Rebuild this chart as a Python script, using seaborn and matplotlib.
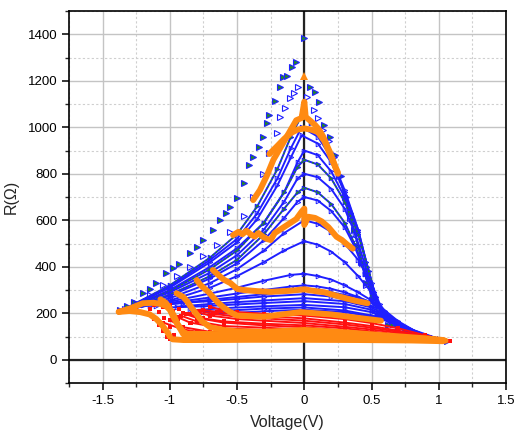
import matplotlib
matplotlib.use("Agg")
import matplotlib.pyplot as plt
from matplotlib.ticker import MultipleLocator, FuncFormatter
import seaborn as sns

# ---------------- data ----------------
# sparse outer loops (markers only)
sparse_v = [
    [-1.37, -1.32, -1.27, -1.2, -1.15, -1.1, -1.03, -0.98, -0.93, -0.85, -0.8, -0.75, -0.68, -0.63,
     -0.58, -0.55, -0.5, -0.45, -0.41, -0.38, -0.34, -0.31, -0.28, -0.26, -0.22, -0.18, -0.16, -0.13,
     -0.09, -0.06, 0.0, 0.04, 0.08, 0.11, 0.15, 0.19, 0.23, 0.27, 0.31, 0.34, 0.37, 0.4, 0.43, 0.46,
     0.5, 0.55, 0.62, 0.7, 0.8, 0.92, 1.06],
    [-1.33, -1.25, -1.15, -1.05, -0.95, -0.85, -0.75, -0.65, -0.55, -0.45, -0.38, -0.31, -0.26, -0.2,
     -0.18, -0.14, -0.11, -0.08, -0.05, 0.02, 0.07, 0.1, 0.14, 0.18, 0.22, 0.26, 0.3, 0.34, 0.38,
     0.42, 0.46, 0.5, 0.55],
]
sparse_r = [
    [214, 232, 250, 286, 305, 329, 372, 393, 414, 458, 486, 515, 558, 601,
     630, 658, 695, 760, 837, 873, 916, 959, 1017, 1052, 1113, 1174, 1215, 1220,
     1260, 1282, 1382, 1174, 1153, 1110, 1009, 959, 880, 790, 701, 630, 560, 490, 415, 329,
     257, 190, 150, 125, 108, 93, 82],
    [220, 245, 280, 320, 360, 400, 445, 495, 550, 620, 700, 800, 888, 974,
     1045, 1081, 1124, 1149, 1174, 1131, 1074, 1038, 990, 940, 870, 790, 700, 610, 520,
     420, 320, 240, 185],
]
sparse_green = [True, False]

# dense blue / green loops (line + markers)
loop_v = [
    [-1.37, -1.0, -0.7, -0.5, -0.35, -0.2, -0.1, -0.02, 0.05, 0.1, 0.15, 0.2, 0.25, 0.3, 0.35, 0.4, 0.45, 0.5, 0.55, 0.65, 0.8, 1.05],
    [-1.37, -1.0, -0.7, -0.5, -0.35, -0.2, -0.1, -0.02, 0.1, 0.2, 0.3, 0.4, 0.47, 0.53, 0.6, 0.75, 1.0],
    [-1.37, -1.0, -0.7, -0.5, -0.35, -0.2, -0.1, -0.02, 0.1, 0.2, 0.3, 0.4, 0.46, 0.52, 0.58, 0.7, 0.9, 1.05],
    [-1.37, -1.0, -0.7, -0.5, -0.3, -0.15, -0.05, 0.0, 0.1, 0.2, 0.3, 0.4, 0.47, 0.53, 0.6, 0.75, 1.0],
    [-1.37, -1.0, -0.7, -0.5, -0.3, -0.15, -0.05, 0.0, 0.1, 0.2, 0.3, 0.4, 0.48, 0.54, 0.6, 0.75, 1.0],
    [-1.37, -1.0, -0.7, -0.5, -0.3, -0.15, -0.05, 0.0, 0.1, 0.2, 0.3, 0.38, 0.45, 0.52, 0.58, 0.75, 1.0],
    [-1.37, -1.0, -0.7, -0.5, -0.3, -0.15, -0.05, 0.0, 0.1, 0.2, 0.3, 0.38, 0.45, 0.52, 0.58, 0.75, 1.0],
    [-1.37, -1.0, -0.7, -0.5, -0.3, -0.15, -0.05, 0.0, 0.1, 0.2, 0.3, 0.38, 0.45, 0.52, 0.58, 0.75, 1.0],
    [-1.37, -1.0, -0.7, -0.5, -0.3, -0.15, 0.0, 0.1, 0.2, 0.3, 0.4, 0.5, 0.56, 0.65, 0.8, 1.0],
    [-1.37, -1.0, -0.7, -0.5, -0.3, -0.15, 0.0, 0.1, 0.2, 0.3, 0.4, 0.5, 0.6, 0.7, 0.85, 1.0],
    [-1.3, -1.2, -1.0, -0.7, -0.5, -0.3, -0.1, 0.0, 0.1, 0.2, 0.3, 0.4, 0.5, 0.6, 0.7, 0.85, 1.0],
    [-1.25, -1.1, -0.9, -0.7, -0.5, -0.3, -0.1, 0.0, 0.1, 0.2, 0.3, 0.4, 0.5, 0.6, 0.7, 0.85, 1.0],
    [-1.15, -0.9, -0.7, -0.5, -0.3, 0.0, 0.2, 0.4, 0.55, 0.7, 0.85, 1.0],
    [-1.1, -0.9, -0.7, -0.5, -0.3, 0.0, 0.2, 0.4, 0.55, 0.7, 0.85, 1.0],
    [-0.95, -0.7, -0.5, -0.3, 0.0, 0.3, 0.5, 0.65, 0.85, 1.0],
    [-1.0, -0.75, -0.5, -0.3, 0.0, 0.3, 0.5, 0.65, 0.85, 1.0],
    [-0.85, -0.6, -0.3, 0.0, 0.3, 0.5, 0.7, 0.9, 1.05],
    [-0.75, -0.55, -0.3, 0.0, 0.3, 0.55, 0.8, 1.0],
    [-0.7, -0.5, -0.25, 0.0, 0.3, 0.55, 0.8, 1.0],
]
loop_r = [
    [208, 320, 440, 540, 660, 820, 960, 1050, 1020, 990, 940, 880, 800, 710, 600, 490, 370, 270, 200, 150, 115, 83],
    [208, 315, 430, 520, 630, 780, 910, 1000, 960, 870, 730, 560, 400, 270, 190, 130, 90],
    [208, 310, 420, 505, 605, 750, 870, 965, 930, 850, 720, 560, 420, 290, 200, 140, 100, 83],
    [208, 300, 400, 480, 590, 720, 850, 900, 880, 810, 700, 550, 400, 270, 185, 130, 90],
    [208, 295, 390, 470, 590, 720, 830, 860, 840, 780, 680, 540, 380, 250, 180, 128, 90],
    [208, 290, 375, 450, 560, 680, 780, 800, 785, 735, 650, 540, 410, 280, 190, 128, 90],
    [208, 280, 360, 430, 540, 650, 720, 740, 720, 670, 590, 490, 380, 270, 200, 130, 90],
    [208, 275, 350, 415, 515, 610, 680, 700, 685, 640, 570, 480, 370, 265, 195, 130, 90],
    [208, 265, 330, 390, 470, 545, 600, 585, 550, 500, 430, 330, 240, 170, 120, 90],
    [208, 255, 310, 360, 420, 470, 510, 495, 465, 420, 360, 290, 200, 150, 110, 88],
    [215, 235, 250, 285, 310, 340, 365, 370, 360, 345, 320, 290, 255, 210, 160, 110, 88],
    [225, 238, 252, 268, 285, 300, 315, 320, 315, 305, 290, 270, 245, 205, 160, 112, 88],
    [232, 245, 252, 262, 272, 282, 272, 250, 220, 160, 115, 88],
    [232, 245, 258, 270, 282, 300, 290, 268, 235, 165, 115, 88],
    [228, 240, 248, 255, 265, 252, 225, 175, 115, 88],
    [225, 230, 238, 244, 252, 240, 215, 170, 115, 88],
    [212, 222, 230, 236, 226, 205, 150, 105, 84],
    [205, 212, 220, 225, 212, 185, 130, 90],
    [195, 202, 210, 215, 205, 180, 125, 88],
]
loop_green = [True, False, False, False, True, False, True, False, False, False,
              False, False, False, False, False, False, False, False, False]

# red return branches (line + markers)
red_v = [
    [1.08, 0.9, 0.7, 0.5, 0.3, 0.0, -0.3, -0.5, -0.62, -0.7],
    [1.08, 0.9, 0.7, 0.5, 0.3, 0.0, -0.3, -0.5, -0.65, -0.75],
    [1.08, 0.9, 0.7, 0.5, 0.3, 0.0, -0.3, -0.5, -0.68, -0.78],
    [1.08, 0.9, 0.7, 0.5, 0.3, 0.0, -0.3, -0.5, -0.7, -0.8],
    [1.08, 0.9, 0.6, 0.3, 0.0, -0.3, -0.6, -0.75, -0.85],
    [1.08, 0.9, 0.6, 0.3, 0.0, -0.3, -0.6, -0.8, -0.9],
    [1.08, 0.8, 0.5, 0.2, 0.0, -0.3, -0.6, -0.8, -0.92],
    [1.08, 0.8, 0.5, 0.2, 0.0, -0.3, -0.6, -0.85, -0.95],
    [1.08, 0.7, 0.3, 0.0, -0.4, -0.7, -0.9, -1.0],
    [1.08, 0.7, 0.3, 0.0, -0.4, -0.7, -0.9, -1.05],
]
red_r = [
    [80, 105, 135, 158, 175, 190, 198, 205, 215, 228],
    [80, 100, 125, 145, 160, 178, 188, 195, 205, 215],
    [80, 98, 120, 138, 152, 168, 178, 185, 198, 210],
    [80, 95, 115, 130, 142, 158, 168, 175, 190, 205],
    [80, 94, 115, 135, 148, 155, 165, 178, 195],
    [80, 92, 110, 125, 140, 148, 160, 180, 200],
    [80, 92, 108, 122, 130, 138, 145, 165, 190],
    [80, 92, 105, 115, 122, 128, 135, 160, 185],
    [80, 90, 102, 110, 115, 120, 140, 170],
    [80, 90, 100, 105, 108, 112, 130, 160],
]
# red set transitions on the left (markers only)
red_set_v = [
    [-1.38, -1.3, -1.22, -1.16, -1.12, -1.08, -1.05, -1.02, -1.0],
    [-1.25, -1.15, -1.08, -1.04, -1.0, -0.97, -0.94],
    [-1.12, -1.05, -0.98, -0.94, -0.9, -0.87, -0.84],
    [-1.0, -0.93, -0.88, -0.84, -0.8, -0.76, -0.72],
]
red_set_r = [
    [205, 208, 205, 195, 175, 150, 125, 100, 88],
    [225, 220, 205, 180, 140, 105, 88],
    [235, 228, 210, 175, 135, 105, 88],
    [235, 220, 195, 160, 125, 100, 88],
]

# orange curves (thick)
orange_v = [
    [-0.38, -0.33, -0.28, -0.23, -0.18, -0.13, -0.09, -0.06, -0.02, 0.0, 0.01, 0.05, 0.08, 0.11, 0.14, 0.17, 0.2, 0.23, 0.25],
    [-0.26, -0.2, -0.15, -0.1, -0.05, 0.0, 0.05, 0.1, 0.15, 0.2, 0.25],
    [-0.53, -0.49, -0.46, -0.43, -0.4, -0.37, -0.34, -0.31, -0.28, -0.25, -0.22, -0.18, -0.14, -0.1, -0.06, -0.02, 0.0, 0.0, 0.03, 0.08, 0.13, 0.18, 0.24, 0.28, 0.32, 0.36],
    [-0.68, -0.64, -0.6, -0.55, -0.5, -0.45, -0.35, -0.25, -0.1, 0.0, 0.05, 0.15, 0.26, 0.37, 0.47],
    [-0.8, -0.77, -0.74, -0.71, -0.68, -0.64, -0.6, -0.55, -0.5, -0.3, -0.03, 0.2, 0.4, 0.57],
    [-0.95, -0.9, -0.87, -0.84, -0.8, -0.76, -0.7, -0.6, -0.5, -0.3, 0.0, 0.3, 0.6, 0.9, 1.03],
    [-1.07, -1.03, -1.0, -0.97, -0.94, -0.9, -0.85, -0.8, -0.7, -0.5, 0.0, 0.5, 1.0, 1.05],
    [-1.38, -1.3, -1.2, -1.12, -1.07, -1.03, -1.0, -0.97, -0.93, -0.9, -0.85],
    [-1.38, -1.3, -1.22, -1.15, -1.1, -1.06, -1.02, -1.0],
    [-0.98, -0.9, -0.7, -0.4, 0.0, 0.4, 0.8, 1.03],
    [-0.85, -0.6, -0.3, 0.0, 0.3, 0.6, 0.9, 1.03],
]
orange_r = [
    [687, 730, 790, 860, 910, 960, 1000, 1030, 1040, 1110, 1045, 1025, 1010, 990, 960, 920, 880, 830, 800],
    [885, 920, 950, 975, 990, 995, 990, 980, 940, 870, 805],
    [536, 550, 540, 555, 540, 530, 545, 530, 520, 515, 545, 560, 575, 590, 605, 637, 650, 580, 615, 610, 595, 570, 529, 515, 495, 478],
    [386, 365, 345, 330, 305, 300, 295, 292, 297, 303, 298, 290, 272, 255, 243],
    [343, 320, 305, 290, 270, 245, 225, 205, 190, 185, 205, 195, 180, 168],
    [286, 270, 250, 225, 195, 165, 140, 128, 122, 120, 128, 118, 105, 92, 85],
    [260, 245, 220, 190, 150, 120, 105, 98, 95, 95, 95, 92, 85, 82],
    [206, 220, 243, 245, 240, 232, 215, 180, 140, 110, 92],
    [206, 210, 205, 195, 175, 150, 120, 100],
    [88, 85, 85, 86, 86, 85, 83, 80],
    [112, 110, 110, 112, 108, 100, 90, 84],
]
orange_dot_v = [0.0]
orange_dot_r = [1222]

# ---------------- figure ----------------
sns.set_style("white")
plt.rcParams["font.family"] = ["Liberation Sans", "DejaVu Sans"]
plt.rcParams["axes.unicode_minus"] = False

fig = plt.figure(figsize=(5.15, 4.32), dpi=100)
ax = fig.add_axes([0.134, 0.1134, 0.8485, 0.8611])

BLUE = "#1f1fff"
GREEN = "#23862a"
RED = "#ff1010"
ORANGE = "#ff8a12"

# sparse loops: markers only
for v, r, g in zip(sparse_v, sparse_r, sparse_green):
    sns.lineplot(x=v, y=r, sort=False, estimator=None, ax=ax, linestyle="none",
                 marker=">", markersize=3.8, markeredgewidth=0.8,
                 markerfacecolor=GREEN if g else "none", markeredgecolor=BLUE, color=BLUE)

# dense loops
for v, r, g in zip(loop_v, loop_r, loop_green):
    sns.lineplot(x=v, y=r, sort=False, estimator=None, ax=ax, color=BLUE, lw=1.4,
                 marker=">", markersize=3.3, markeredgewidth=0.7,
                 markerfacecolor=GREEN if g else "none", markeredgecolor=BLUE)
    if g:
        sns.lineplot(x=v, y=r, sort=False, estimator=None, ax=ax, color=GREEN, lw=1.0,
                     linestyle=(0, (1.5, 1.5)))

# red
for v, r in zip(red_v, red_r):
    sns.lineplot(x=v, y=r, sort=False, estimator=None, ax=ax, color=RED, lw=1.4,
                 marker="s", markersize=2.2, markeredgewidth=0)
for v, r in zip(red_set_v, red_set_r):
    sns.lineplot(x=v, y=r, sort=False, estimator=None, ax=ax, color=RED, linestyle="none",
                 marker="s", markersize=2.6, markeredgewidth=0)

# orange
for v, r in zip(orange_v, orange_r):
    sns.lineplot(x=v, y=r, sort=False, estimator=None, ax=ax, color=ORANGE, lw=4.3,
                 solid_capstyle="round", solid_joinstyle="round")
sns.lineplot(x=orange_dot_v, y=orange_dot_r, ax=ax, color=ORANGE, linestyle="none",
             marker="^", markersize=6, markeredgewidth=0)

# axes cosmetics
ax.set_xlim(-1.75, 1.5)
ax.set_ylim(-100, 1500)
ax.xaxis.set_major_locator(MultipleLocator(0.5))
ax.xaxis.set_minor_locator(MultipleLocator(0.25))
ax.yaxis.set_major_locator(MultipleLocator(200))
ax.yaxis.set_minor_locator(MultipleLocator(100))
ax.xaxis.set_major_formatter(FuncFormatter(lambda x, p: "%g" % round(x, 2)))
ax.yaxis.set_major_formatter(FuncFormatter(lambda y, p: "%g" % y))
ax.set_yticks([0, 200, 400, 600, 800, 1000, 1200, 1400])

ax.grid(which="major", color="#c4c4c4", lw=1.0, ls="-", zorder=0)
ax.grid(which="minor", color="#cfcfcf", lw=0.8, ls=(0, (2, 2)), zorder=0)
ax.set_axisbelow(True)
ax.axhline(0, color="#222222", lw=1.6, zorder=1)
ax.axvline(0, color="#222222", lw=1.6, zorder=1)

for s in ax.spines.values():
    s.set_color("black")
    s.set_linewidth(1.2)
ax.tick_params(which="major", direction="out", length=5, width=1.1, labelsize=9.5,
               colors="black", bottom=True, left=True)
ax.tick_params(which="minor", direction="out", length=3, width=1.0, bottom=True, left=True)

ax.set_xlabel("Voltage(V)", fontsize=11.5, labelpad=6)
ax.set_ylabel("R(Ω)", fontsize=11.5, labelpad=6)

fig.savefig("out.png", dpi=100)
